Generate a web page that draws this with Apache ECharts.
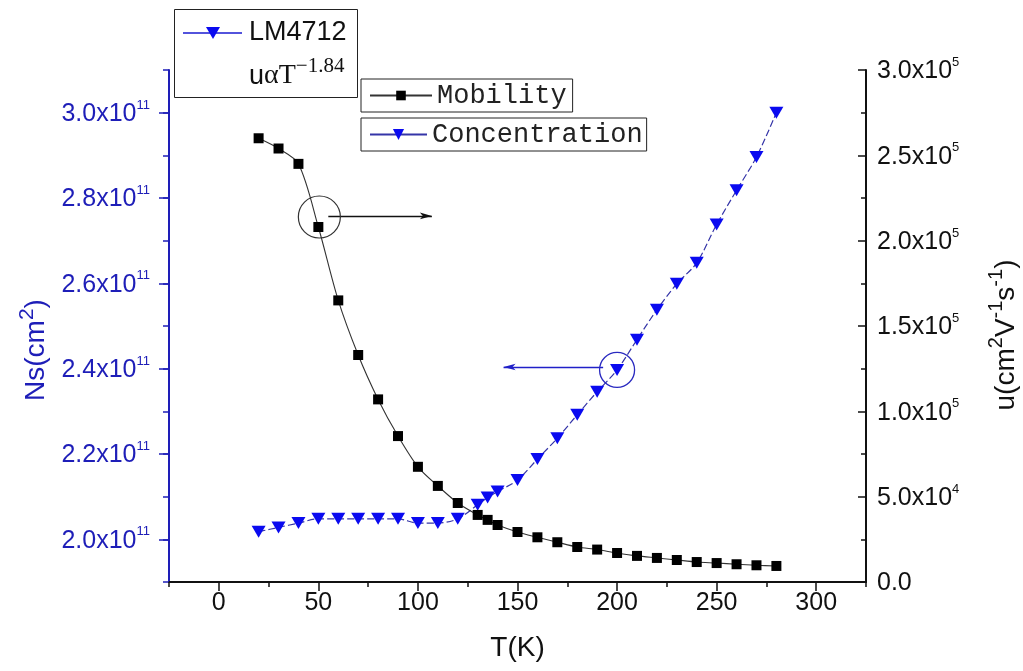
<!DOCTYPE html>
<html><head><meta charset="utf-8">
<script src="https://cdn.jsdelivr.net/npm/echarts@6/dist/echarts.min.js"></script>
<style>html,body{margin:0;padding:0;background:#fff}#c{width:1023px;height:671px}</style>
</head><body><div id="c"></div>
<script>
// ---- data ----
const temperatures = [20,30,40,50,60,70,80,90,100,110,120,130,135,140,150,160,170,180,190,200,210,220,230,240,250,260,270,280];
const mobility = [260000,254000,245000,208000,165000,133000,107000,85500,67500,56300,46300,39300,36400,33400,29300,26200,23300,20500,19000,17000,15300,14100,12900,11700,11100,10400,9800,9400];
const concentration = [2.018e11,2.028e11,2.038e11,2.048e11,2.048e11,2.048e11,2.048e11,2.048e11,2.038e11,2.038e11,2.048e11,2.081e11,2.098e11,2.112e11,2.139e11,2.188e11,2.237e11,2.292e11,2.346e11,2.397e11,2.468e11,2.538e11,2.599e11,2.648e11,2.738e11,2.818e11,2.896e11,3.000e11];
const xTickValues = [0,50,100,150,200,250,300];
const leftTickValues = [2.0e11,2.2e11,2.4e11,2.6e11,2.8e11,3.0e11];
const leftTickMant = ['2.0','2.2','2.4','2.6','2.8','3.0'];
const rightTickValues = [0,5e4,1e5,1.5e5,2e5,2.5e5,3e5];
const rightTickMant = ['0.0','5.0','1.0','1.5','2.0','2.5','3.0'];
const rightTickExp = ['','4','5','5','5','5','5'];
// annotations (data units)
const mobilityCircleT = 50;
const mobilityArrow = [[55,214500],[107,214500]];
const concCircleT = 200;
const concArrow = [[193,2.404e11],[143,2.404e11]];

const BLUE = '#1e1eb8';
const FONT = '"Liberation Sans", Arial, sans-serif';

const mobData = temperatures.map((t,i)=>[t,mobility[i]]);
const concData = temperatures.map((t,i)=>[t,concentration[i]]);
const mi = temperatures.indexOf(mobilityCircleT);
const ci = temperatures.indexOf(concCircleT);

function findIdx(arr, v, tol){ for(let i=0;i<arr.length;i++){ if(Math.abs(arr[i]-v)<tol) return i; } return -1; }

const chart = echarts.init(document.getElementById('c'), null, {renderer:'canvas'});
const option = {
  animation: false,
  backgroundColor: '#fff',
  grid: {left:169, right:157, top:70, bottom:89, containLabel:false, outerBoundsMode:'none'},
  legend: [
    {data:['Mobility'], left:361, top:79, itemWidth:62, itemHeight:12, padding:[3,6,3,8],
     borderColor:'#222', borderWidth:1, backgroundColor:'#fff', lineStyle:{type:'solid'},
     textStyle:{fontFamily:'"Liberation Mono", monospace', fontSize:27, color:'#222'}},
    {data:['Concentration'], left:361, top:118, itemWidth:57, itemHeight:14, padding:[3,4,3,8],
     borderColor:'#222', borderWidth:1, backgroundColor:'#fff', lineStyle:{type:'solid'},
     textStyle:{fontFamily:'"Liberation Mono", monospace', fontSize:27, color:'#222'}}
  ],
  xAxis: [
    {type:'value', min:-25, max:325, interval:25, position:'bottom',
     name:'T(K)', nameLocation:'middle', nameGap:52,
     nameTextStyle:{fontFamily:FONT, fontSize:28, color:'#111'},
     axisLine:{onZero:false, lineStyle:{color:'#111', width:2}},
     axisTick:{show:true, length:5, lineStyle:{color:'#111', width:1.5}},
     splitLine:{show:false},
     axisLabel:{customValues:xTickValues, margin:9, fontFamily:FONT, fontSize:25, color:'#111',
       formatter:(v)=> String(v)}},
    {type:'value', min:-25, max:325, position:'bottom',
     axisLine:{show:false, onZero:false},
     axisTick:{show:true, customValues:xTickValues, length:9, lineStyle:{color:'#111', width:1.5}},
     axisLabel:{show:false}, splitLine:{show:false}}
  ],
  yAxis: [
    {type:'value', min:1.9e11, max:3.1e11, interval:1e10, position:'left',
     name:'{n|Ns(cm}{s|2}{n|)}', nameLocation:'middle', nameGap:116, nameRotate:90,
     nameTextStyle:{padding:[0,48,0,0], rich:{
        n:{fontFamily:FONT, fontSize:28, color:BLUE, lineHeight:34, verticalAlign:'bottom'},
        s:{fontFamily:FONT, fontSize:21, color:BLUE, lineHeight:21, verticalAlign:'top'}}},
     axisLine:{show:true, onZero:false, lineStyle:{color:BLUE, width:2}},
     axisTick:{show:true, length:6, lineStyle:{color:BLUE, width:1.5}},
     splitLine:{show:false},
     axisLabel:{customValues:leftTickValues, margin:19,
       formatter:(v)=>{const i=findIdx(leftTickValues,v,1e8); return i<0?'':'{b|'+leftTickMant[i]+'x10}{s|11}';},
       rich:{
         b:{fontFamily:FONT, fontSize:25, color:BLUE, lineHeight:28, verticalAlign:'bottom'},
         s:{fontFamily:FONT, fontSize:13, color:BLUE, lineHeight:13, verticalAlign:'top'}}}},
    {type:'value', min:0, max:3e5, interval:5e4, position:'right',
     name:'{n|u(cm}{s|2}{n|V}{s|-1}{n|s}{s|-1}{n|)}', nameLocation:'middle', nameGap:120, nameRotate:90,
     nameTextStyle:{padding:[0,18,0,0], rich:{
        n:{fontFamily:FONT, fontSize:28, color:'#111', lineHeight:34, verticalAlign:'bottom'},
        s:{fontFamily:FONT, fontSize:20, color:'#111', lineHeight:20, verticalAlign:'top'}}},
     axisLine:{show:true, onZero:false, lineStyle:{color:'#111', width:2}},
     axisTick:{show:true, inside:true, length:8, lineStyle:{color:'#111', width:1.5}},
     minorTick:{show:true, splitNumber:2, length:5, lineStyle:{color:'#111', width:1.5}},
     splitLine:{show:false}, minorSplitLine:{show:false},
     axisLabel:{margin:11,
       formatter:(v)=>{const i=findIdx(rightTickValues,v,1); if(i<0) return ''; return rightTickExp[i]? '{b|'+rightTickMant[i]+'x10}{s|'+rightTickExp[i]+'}' : '{b|'+rightTickMant[i]+'}';},
       rich:{
         b:{fontFamily:FONT, fontSize:25, color:'#111', lineHeight:28, verticalAlign:'bottom'},
         s:{fontFamily:FONT, fontSize:13, color:'#111', lineHeight:13, verticalAlign:'top'}}}},
    {type:'value', min:1.9e11, max:3.1e11, position:'left',
     axisLine:{show:false, onZero:false},
     axisTick:{show:true, customValues:leftTickValues, length:10, lineStyle:{color:BLUE, width:1.5}},
     axisLabel:{show:false}, splitLine:{show:false}}
  ],
  series: [
    {name:'Concentration', type:'line', xAxisIndex:0, yAxisIndex:0, data:concData,
     symbol:'triangle', symbolRotate:180, symbolSize:[14,12], smooth:0.3,
     lineStyle:{color:'#3535a8', width:1.2, type:[7,3]},
     itemStyle:{color:'#0a0af0'},
     markPoint:{silent:true, label:{show:false}, symbol:'circle', symbolSize:35,
       itemStyle:{color:'rgba(0,0,0,0)', borderColor:'#2a2ac0', borderWidth:1.3},
       data:[{coord:concData[ci]}]},
     markLine:{silent:true, symbol:['none','arrow'], symbolSize:[5,12], label:{show:false},
       lineStyle:{color:'#2020c8', width:1.3, type:'solid'},
       data:[[{coord:concArrow[0]},{coord:concArrow[1]}]]}},
    {name:'Mobility', type:'line', xAxisIndex:0, yAxisIndex:1, data:mobData,
     symbol:'rect', symbolSize:10, smooth:0.3,
     lineStyle:{color:'#333', width:1.1, type:'solid'},
     itemStyle:{color:'#000'},
     markPoint:{silent:true, label:{show:false}, symbol:'circle', symbolSize:42, symbolOffset:[1,-10],
       itemStyle:{color:'rgba(0,0,0,0)', borderColor:'#333', borderWidth:1.2},
       data:[{coord:mobData[mi]}]},
     markLine:{silent:true, symbol:['none','arrow'], symbolSize:[5,12], label:{show:false},
       lineStyle:{color:'#111', width:1.3, type:'solid'},
       data:[[{coord:mobilityArrow[0]},{coord:mobilityArrow[1]}]]}}
  ],
  graphic: [
    {type:'rect', z:100, shape:{x:174.5, y:9.5, width:183, height:88}, style:{fill:'#fff', stroke:'#222', lineWidth:1}},
    {type:'line', z:101, shape:{x1:183, y1:33, x2:242, y2:33}, style:{stroke:'#1a1ad0', lineWidth:1.5}},
    {type:'polygon', z:102, shape:{points:[[206,27],[220,27],[213,39]]}, style:{fill:'#0a0af0'}},
    {type:'text', z:102, x:249, y:33, style:{text:'LM4712', fontFamily:FONT, fontSize:27, fill:'#111', verticalAlign:'middle'}},
    {type:'text', z:102, x:249, y:56, style:{text:'{u|u}{a|αT}{s|−1.84}', verticalAlign:'top',
      rich:{
        u:{fontFamily:FONT, fontSize:27, fill:'#111', lineHeight:34, verticalAlign:'bottom'},
        a:{fontFamily:'"Liberation Serif", serif', fontSize:28, fill:'#111', lineHeight:34, verticalAlign:'bottom'},
        s:{fontFamily:'"Liberation Serif", serif', fontSize:21, fill:'#111', lineHeight:21, verticalAlign:'top'}}}}
  ]
};
chart.setOption(option);
</script></body></html>
